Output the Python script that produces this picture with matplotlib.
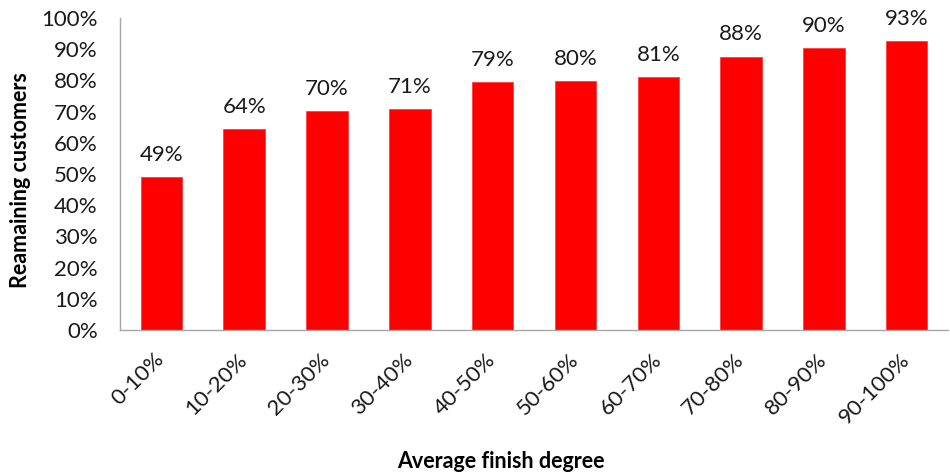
import matplotlib
matplotlib.use("Agg")
import matplotlib.pyplot as plt
from matplotlib.ticker import PercentFormatter

plt.rcParams['font.family'] = ['Lato', 'DejaVu Sans']

# Share of remaining customers by average finish degree
categories = ['0-10%', '10-20%', '20-30%', '30-40%', '40-50%',
              '50-60%', '60-70%', '70-80%', '80-90%', '90-100%']
remaining = [49.0, 64.4, 70.2, 70.8, 79.4, 79.8, 81.1, 87.6, 90.4, 92.6]

fig = plt.figure(figsize=(9.5, 4.76), dpi=100)
ax = fig.add_axes([0.1263, 0.3067, 0.8717, 0.6553])

x = range(len(categories))
bars = ax.bar(x, remaining, width=0.5, color='#ff0000', edgecolor='#ff4040', linewidth=0.6)

for b, v in zip(bars, remaining):
    ax.annotate(f"{round(v):.0f}%", (b.get_x() + b.get_width() / 2, v),
                xytext=(0, 9), textcoords='offset points',
                ha='center', va='bottom', fontsize=16, color='#1a1a1a')

ax.set_xlim(-0.5, len(categories) - 0.5)
ax.set_ylim(0, 100)
ax.set_yticks(range(0, 101, 10))
ax.yaxis.set_major_formatter(PercentFormatter(decimals=0))
ax.set_xticks(list(x))
ax.set_xticklabels(categories, rotation=45, ha='right', va='center',
                   rotation_mode='anchor')

ax.tick_params(axis='both', length=0, labelsize=16, colors='#1a1a1a')
ax.tick_params(axis='x', pad=19)
ax.tick_params(axis='y', pad=16)

for side in ('top', 'right'):
    ax.spines[side].set_visible(False)
for side in ('left', 'bottom'):
    ax.spines[side].set_color('#a6a6a6')
    ax.spines[side].set_linewidth(1.0)

fig.text(0.022, 0.622, 'Reamaining customers', ha='center', va='center',
         rotation=90, fontsize=15.5, fontweight='bold')
fig.text(0.527, 0.03, 'Average finish degree', ha='center', va='center',
         fontsize=15.5, fontweight='bold')

fig.savefig('out.png', dpi=100)
